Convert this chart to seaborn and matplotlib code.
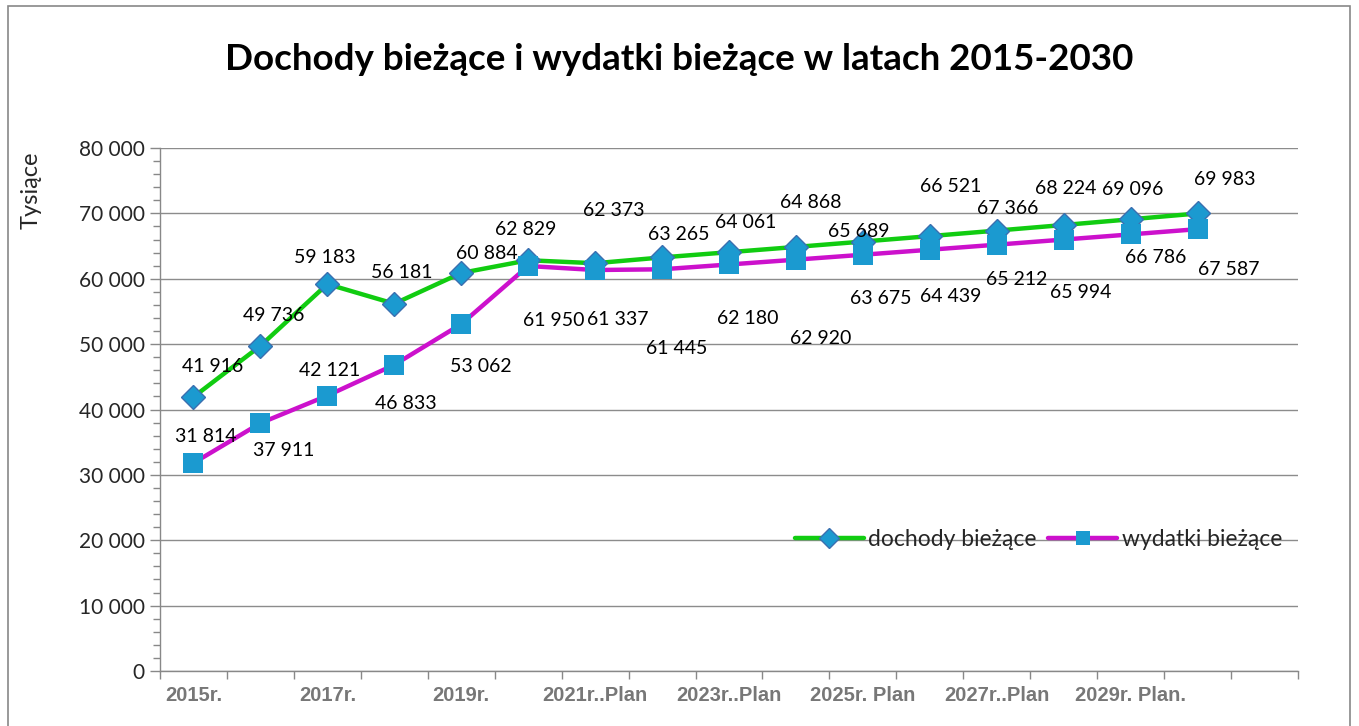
import pandas as pd
import matplotlib.pyplot as plt
import seaborn as sns
from matplotlib.ticker import FixedLocator, MultipleLocator, FuncFormatter
from matplotlib.patches import Rectangle

years = ['2015r.', '2016r.', '2017r.', '2018r.', '2019r.', '2020r.',
         '2021r..Plan', '2022r..Plan', '2023r..Plan', '2024r..Plan',
         '2025r. Plan', '2026r. Plan', '2027r..Plan', '2028r..Plan',
         '2029r. Plan.', '2030r. Plan']
dochody = [41916, 49736, 59183, 56181, 60884, 62829, 62373, 63265,
           64061, 64868, 65689, 66521, 67366, 68224, 69096, 69983]
wydatki = [31814, 37911, 42121, 46833, 53062, 61950, 61337, 61445,
           62180, 62920, 63675, 64439, 65212, 65994, 66786, 67587]

# label offsets in pixels (dx, dy)
doch_off = [(19, 30), (13, 30), (-3, 27), (7, 31), (26, 19), (-2, 31),
            (19, 53), (17, 23), (17, 30), (15, 44), (-4, 10), (21, 50),
            (11, 22), (2, 36), (2, 30), (27, 34)]
wyd_off = [(12, 27), (23, -27), (2, 25), (12, -39), (20, -42), (26, -54),
           (23, -49), (15, -79), (19, -54), (25, -79), (18, -44), (21, -47),
           (20, -35), (17, -53), (25, -23), (31, -40)]

df = pd.DataFrame({'idx': range(len(years)), 'rok': years,
                   'dochody': dochody, 'wydatki': wydatki})

sns.set_style('white')
plt.rcParams['font.family'] = ['Lato', 'DejaVu Sans']

fig = plt.figure(figsize=(13.59, 7.26), dpi=100)
ax = fig.add_axes([160 / 1359, 1 - 671 / 726, 1138 / 1359, 523 / 726])

green = '#11CC11'
magenta = '#CC11CC'
blue = '#1B9AD0'

sns.lineplot(data=df, x='idx', y='dochody', ax=ax, color=green, lw=3.2,
             marker='D', markersize=12, markerfacecolor=blue,
             markeredgecolor='#3A6FB0', markeredgewidth=1,
             label='dochody bieżące', zorder=4)
sns.lineplot(data=df, x='idx', y='wydatki', ax=ax, color=magenta, lw=3.2,
             marker='s', markersize=14, markerfacecolor=blue,
             markeredgecolor=blue, markeredgewidth=0,
             label='wydatki bieżące', zorder=5)

for i, v in enumerate(dochody):
    ax.annotate(f'{v:,}'.replace(',', ' '), (i, v), xytext=doch_off[i],
                textcoords='offset pixels', ha='center', va='center',
                fontsize=14, color='black', zorder=6)
for i, v in enumerate(wydatki):
    ax.annotate(f'{v:,}'.replace(',', ' '), (i, v), xytext=wyd_off[i],
                textcoords='offset pixels', ha='center', va='center',
                fontsize=14, color='black', zorder=6)

ax.set_xlim(-0.5, 16.5)
ax.set_ylim(0, 80000)

# category boundaries carry the tick marks, labels sit at every other category
ax.xaxis.set_major_locator(FixedLocator([i - 0.5 for i in range(18)]))
ax.xaxis.set_major_formatter(FuncFormatter(lambda x, p: ''))
ax.xaxis.set_minor_locator(FixedLocator(list(range(0, 16, 2))))
ax.xaxis.set_minor_formatter(FuncFormatter(lambda x, p: years[int(round(x))]))
ax.tick_params(axis='x', which='major', direction='out', length=6,
               color='#888888', width=1, bottom=True)
ax.tick_params(axis='x', which='minor', length=0, pad=11, labelsize=14.5,
               labelcolor='#777777', bottom=True)
for lab in ax.get_xticklabels(minor=True):
    lab.set_fontweight('bold')
    lab.set_family(['Liberation Sans Narrow', 'Liberation Sans', 'DejaVu Sans'])

ax.yaxis.set_major_locator(MultipleLocator(10000))
ax.yaxis.set_minor_locator(MultipleLocator(2000))
ax.yaxis.set_major_formatter(FuncFormatter(lambda y, p: f'{int(y):,}'.replace(',', ' ')))
ax.tick_params(axis='y', which='major', direction='out', length=7,
               color='#888888', width=1, labelsize=15, pad=4, left=True)
ax.tick_params(axis='y', which='minor', direction='out', length=5,
               color='#888888', width=1, left=True)

ax.grid(axis='y', which='major', color='#8C8C8C', lw=1)
ax.grid(axis='x', visible=False)
ax.set_axisbelow(True)
for s in ['top', 'right']:
    ax.spines[s].set_visible(False)
for s in ['left', 'bottom']:
    ax.spines[s].set_color('#888888')
    ax.spines[s].set_linewidth(1)

ax.set_xlabel('')
ax.set_ylabel('Tysiące', fontsize=17)
ax.yaxis.set_label_coords(-0.1037, 0.92)

leg = ax.legend(loc='center', bbox_to_anchor=(0.772, 0.2505), ncol=2,
                frameon=False, fontsize=16.5, handlelength=3.0,
                columnspacing=0.5, handletextpad=0.2)
for h in leg.legend_handles:
    h.set_markersize(10)

fig.text(0.5, 1 - 60 / 726, 'Dochody bieżące i wydatki bieżące w latach 2015-2030',
         ha='center', va='center', fontsize=26.5, fontweight='bold', color='black')

fig.patches.append(Rectangle((8 / 1359, -0.1), 1342 / 1359, 1.1 - 6 / 726,
                             transform=fig.transFigure, fill=False,
                             edgecolor='#888888', lw=1.2))

fig.savefig('out.png', dpi=100)
